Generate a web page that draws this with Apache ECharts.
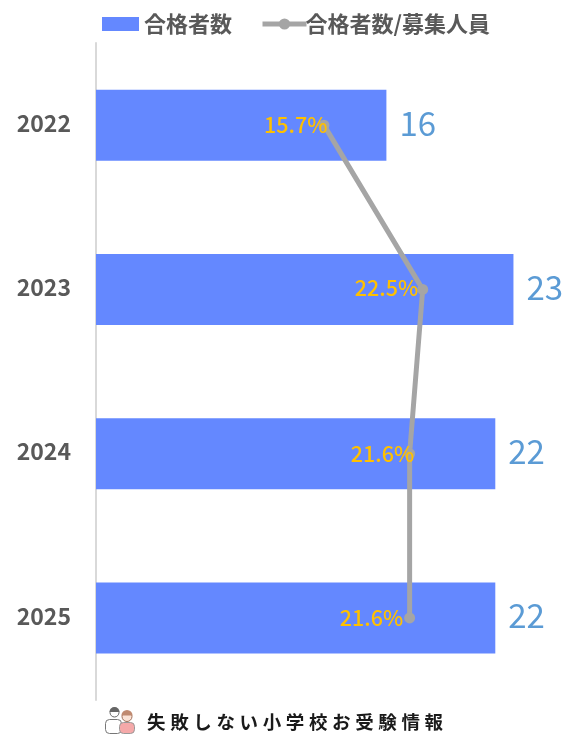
<!DOCTYPE html>
<html><head><meta charset="utf-8">
<style>html,body{margin:0;padding:0;background:#fff}#c{width:577px;height:751px}</style>
<script src="https://cdn.jsdelivr.net/npm/echarts@6/dist/echarts.min.js"></script>
</head><body><div id="c"></div>
<script>
const categories = ['2022','2023','2024','2025'];
const passers = [16,23,22,22];
const passRate = [15.7,22.5,21.6,21.6];
const barName = '合格者数';
const lineName = '合格者数/募集人員';
const footer = '失敗しない小学校お受験情報';
const rateLabelGap = [-9,-1,-10,1];
const rateLabelLift = [0,-2,0,0];
const F = '"Noto Sans CJK JP","Noto Sans",sans-serif';
const chart = echarts.init(document.getElementById('c'), null, {renderer:'canvas'});
const footerText = footer.split('').join('\u2005');
const legendText = {color:'#595959',fontFamily:F,fontSize:22,fontWeight:600};
chart.setOption({
  animation:false,
  backgroundColor:'#fff',
  legend:[
    {top:13,left:102,padding:0,itemWidth:37,itemHeight:14,itemGap:0,
     textStyle:Object.assign({padding:[0,0,0,0]},legendText),
     data:[{name:barName,icon:'rect'}]},
    {top:13,left:260,padding:0,itemWidth:44,itemHeight:14,itemGap:0,
     textStyle:Object.assign({padding:[0,0,0,-6]},legendText),
     lineStyle:{width:5},
     data:[{name:lineName}]}
  ],
  grid:{left:96,top:43,width:435.6,height:657},
  xAxis:[
    {type:'value',min:0,max:24,show:false},
    {type:'value',min:0,max:30,show:false}
  ],
  yAxis:{
    type:'category',inverse:true,data:categories,offset:1,
    axisLine:{lineStyle:{color:'#D9D9D9',width:2}},
    axisTick:{show:false},splitLine:{show:false},
    axisLabel:{color:'#595959',fontFamily:F,fontSize:23,fontWeight:600,margin:24,verticalAlign:'bottom',lineHeight:4}
  },
  series:[
    {name:barName,type:'bar',data:passers,barWidth:71,itemStyle:{color:'#6488FF'},
     label:{show:true,position:'right',distance:13,offset:[0,-2],color:'#5B9BD5',fontFamily:F,fontSize:33,fontWeight:400}},
    {name:lineName,type:'line',xAxisIndex:1,
     data:passRate.map((v,i)=>({value:[v,categories[i]],label:{distance:rateLabelGap[i],offset:[0,rateLabelLift[i]]}})),
     lineStyle:{color:'#A5A5A5',width:5},itemStyle:{color:'#A5A5A5'},
     symbol:'circle',symbolSize:11,z:5,
     label:{show:true,position:'left',color:'#FFC000',fontFamily:F,fontSize:21.5,fontWeight:500,
       formatter:p=>p.value[0].toFixed(1)+'%'}}
  ],
  graphic:[
    {type:'text',left:147,top:713,style:{text:footerText,fill:'#1a1a1a',font:'700 18.5px '+F}},
    {type:'group',left:105,top:707,children:[
      {type:'rect',shape:{x:0,y:12,width:16,height:14,r:4},style:{fill:'#fff',stroke:'#777',lineWidth:1}},
      {type:'circle',shape:{cx:9,cy:5,r:4.5},style:{fill:'#fff',stroke:'#666',lineWidth:1}},
      {type:'sector',shape:{cx:9,cy:4.5,r:5,startAngle:Math.PI,endAngle:2*Math.PI},style:{fill:'#666'}},
      {type:'rect',shape:{x:14,y:15,width:15,height:11,r:4},style:{fill:'#F5A9A9',stroke:'#999',lineWidth:1}},
      {type:'circle',shape:{cx:21.5,cy:9,r:5},style:{fill:'#FBE3D6',stroke:'#A0705A',lineWidth:1}},
      {type:'sector',shape:{cx:21.5,cy:8,r:5.5,startAngle:Math.PI,endAngle:2*Math.PI},style:{fill:'#C08A70'}}
    ]}
  ]
});
</script></body></html>
